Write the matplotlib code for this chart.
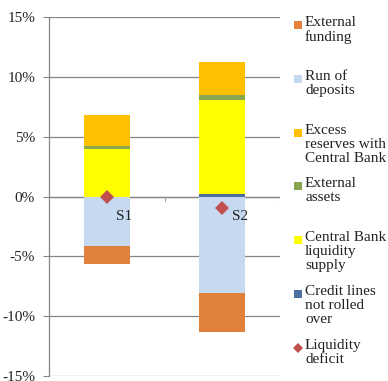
import matplotlib.pyplot as plt
from matplotlib.patches import Rectangle
from matplotlib.ticker import FuncFormatter

plt.rcParams['font.family'] = ['Liberation Serif', 'DejaVu Serif']

scenarios = ["S1", "S2"]
# positive side, stacked from 0 upwards
credit_lines = [0.0, 0.25]
cb_liquidity = [4.0, 7.8]
external_assets = [0.2, 0.4]
excess_reserves = [2.65, 2.75]
# negative side, stacked from 0 downwards
run_of_deposits = [-4.1, -8.1]
external_funding = [-1.55, -3.2]
liquidity_deficit = [0.0, -1.0]

c_ext_fund = "#E0803A"
c_run = "#C6D9F1"
c_excess = "#FFC000"
c_ext_assets = "#8AA64E"
c_cb = "#FFFF00"
c_credit = "#4A6FA0"
c_deficit = "#C0504D"

fig = plt.figure(figsize=(3.88, 3.81), dpi=100)
ax = fig.add_axes([49 / 388, 5 / 381, 231 / 388, 359 / 381])

x = [0, 1]
w = 0.4
bottom = [0.0, 0.0]
for vals, col in [(credit_lines, c_credit), (cb_liquidity, c_cb),
                  (external_assets, c_ext_assets), (excess_reserves, c_excess)]:
    ax.bar(x, vals, w, bottom=bottom, color=col, linewidth=0, zorder=2)
    bottom = [b + v for b, v in zip(bottom, vals)]

bottom = [0.0, 0.0]
for vals, col in [(run_of_deposits, c_run), (external_funding, c_ext_fund)]:
    ax.bar(x, vals, w, bottom=bottom, color=col, linewidth=0, zorder=2)
    bottom = [b + v for b, v in zip(bottom, vals)]

ax.plot(x, liquidity_deficit, linestyle="none", marker="D", markersize=7,
        color=c_deficit, markeredgewidth=0, zorder=4)
offsets = [(9, -20), (10, -8)]
for xi, yi, name, off in zip(x, liquidity_deficit, scenarios, offsets):
    ax.annotate(name, (xi, yi), xytext=off, textcoords="offset pixels",
                fontsize=11, ha="left", va="center", color="#222222", zorder=5)

ax.set_xlim(-0.5, 1.5)
ax.set_ylim(-15, 15)
ax.set_yticks(range(-15, 16, 5))
ax.yaxis.set_major_formatter(FuncFormatter(lambda v, p: "%d%%" % v))
ax.tick_params(axis="y", labelsize=11, length=4, color="#868686",
               width=0.8, pad=6, labelcolor="#222222")
ax.grid(axis="y", color="#868686", linewidth=0.9, zorder=0)
ax.set_axisbelow(True)

# category axis at zero with boundary ticks
ax.set_xticks([])
ax.plot([-0.5, 1.5], [0, 0], color="#868686", linewidth=0.9, zorder=1)
for xb in [0.5, 1.5]:
    ax.plot([xb, xb], [0, -0.4], color="#A0A0A0", linewidth=0.8, zorder=1)

for s in ["top", "right", "bottom"]:
    ax.spines[s].set_visible(False)
ax.spines["left"].set_color("#868686")
ax.spines["left"].set_linewidth(0.9)

# legend, drawn by hand to keep Excel's even spacing
legend_items = [
    ("External\nfunding", c_ext_fund, "s"),
    ("Run of\ndeposits", c_run, "s"),
    ("Excess\nreserves with\nCentral Bank", c_excess, "s"),
    ("External\nassets", c_ext_assets, "s"),
    ("Central Bank\nliquidity\nsupply", c_cb, "s"),
    ("Credit lines\nnot rolled\nover", c_credit, "s"),
    ("Liquidity\ndeficit", c_deficit, "D"),
]
lax = fig.add_axes([0, 0, 1, 1])
lax.set_xlim(0, 388)
lax.set_ylim(381, 0)
lax.axis("off")
y0 = 25
step = 53.8
for i, (lab, col, mk) in enumerate(legend_items):
    yy = y0 + i * step
    if mk == "s":
        lax.add_patch(Rectangle((294, yy - 4), 8, 8, color=col, linewidth=0))
    else:
        lax.plot(298, yy, marker="D", markersize=5, color=col,
                 markeredgewidth=0, linestyle="none")
    lax.text(305, yy - 9, lab, fontsize=11, ha="left", va="top",
             color="#222222", linespacing=1.1)

fig.savefig("out.png", dpi=100)
